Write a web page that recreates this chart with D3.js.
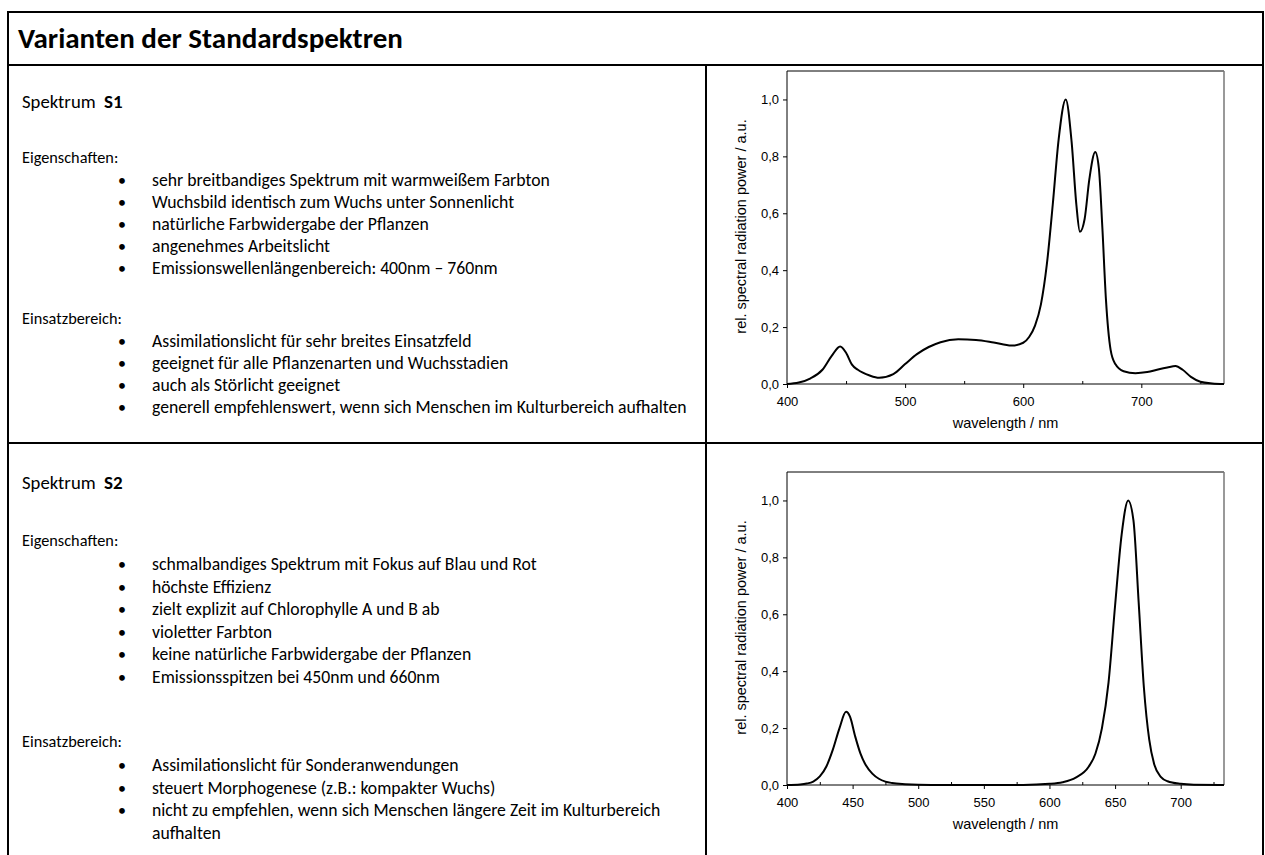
<!DOCTYPE html>
<html lang="de">
<head>
<meta charset="UTF-8">
<title>Varianten der Standardspektren</title>
<script src="https://d3js.org/d3.v7.min.js"></script>
<style>
  body { margin: 0; background: #fff; }
  .doc { font-family: Carlito, Calibri, Lato, sans-serif; fill: #000; }
  .chart text { font-family: "Liberation Sans", Arial, sans-serif; fill: #000; }
</style>
</head>
<body>
<div id="page"></div>
<script>
// ---- text content ----
const title = "Varianten der Standardspektren";

const s1Props = [
  "sehr breitbandiges Spektrum mit warmweißem Farbton",
  "Wuchsbild identisch zum Wuchs unter Sonnenlicht",
  "natürliche Farbwidergabe der Pflanzen",
  "angenehmes Arbeitslicht",
  "Emissionswellenlängenbereich: 400nm – 760nm"
];
const s1Uses = [
  "Assimilationslicht für sehr breites Einsatzfeld",
  "geeignet für alle Pflanzenarten und Wuchsstadien",
  "auch als Störlicht geeignet",
  "generell empfehlenswert, wenn sich Menschen im Kulturbereich aufhalten"
];
const s2Props = [
  "schmalbandiges Spektrum mit Fokus auf Blau und Rot",
  "höchste Effizienz",
  "zielt explizit auf Chlorophylle A und B ab",
  "violetter Farbton",
  "keine natürliche Farbwidergabe der Pflanzen",
  "Emissionsspitzen bei 450nm und 660nm"
];
const s2Uses = [
  "Assimilationslicht für Sonderanwendungen",
  "steuert Morphogenese (z.B.: kompakter Wuchs)",
  "nicht zu empfehlen, wenn sich Menschen längere Zeit im Kulturbereich"
];
const s2UsesCont = "aufhalten";

// ---- spectrum data (wavelength nm, relative power) ----
const s1Wl  = [400, 410, 420, 430, 438, 445, 450, 455, 460, 470, 478, 490, 500, 510, 520, 530, 545, 560, 575, 590, 600, 605, 610, 615, 620, 625, 630, 636, 641, 645, 648, 652, 656, 661, 664, 667, 670, 674, 678, 685, 695, 705, 715, 722, 729, 735, 742, 750, 760, 770];
const s1Val = [0.0, 0.005, 0.02, 0.05, 0.1, 0.132, 0.11, 0.068, 0.05, 0.03, 0.022, 0.035, 0.07, 0.105, 0.13, 0.147, 0.157, 0.155, 0.146, 0.135, 0.145, 0.165, 0.205, 0.28, 0.42, 0.63, 0.86, 1.0, 0.85, 0.63, 0.535, 0.58, 0.72, 0.815, 0.76, 0.55, 0.3, 0.12, 0.07, 0.045, 0.038, 0.042, 0.052, 0.058, 0.063, 0.05, 0.025, 0.008, 0.002, 0.0];

const s2Wl  = [400, 410, 415, 420, 425, 430, 435, 440, 445, 448, 452, 456, 460, 465, 470, 475, 480, 490, 500, 520, 580, 600, 610, 620, 630, 635, 640, 645, 650, 655, 660, 664, 668, 672, 676, 680, 685, 690, 700, 710, 733];
const s2Val = [0.0, 0.002, 0.005, 0.012, 0.03, 0.065, 0.125, 0.2, 0.257, 0.24, 0.17, 0.11, 0.07, 0.04, 0.022, 0.012, 0.007, 0.003, 0.001, 0.0, 0.0, 0.004, 0.01, 0.026, 0.065, 0.11, 0.2, 0.36, 0.63, 0.88, 1.0, 0.93, 0.64, 0.34, 0.16, 0.07, 0.028, 0.013, 0.004, 0.001, 0.0];

// ---- axis ticks ----
const yTicks = [0, 0.2, 0.4, 0.6, 0.8, 1.0];
const s1Major = [400, 500, 600, 700];
const s1Minor = [450, 550, 650, 750];
const s2Major = [400, 450, 500, 550, 600, 650, 700];
const s2Minor = [425, 475, 525, 575, 625, 675, 725];

const W = 1265, H = 855;
const svg = d3.select("#page").append("svg")
  .attr("width", W).attr("height", H);

// table frame
const frame = svg.append("g").attr("stroke", "#000").attr("stroke-width", 2);
frame.append("line").attr("x1", 8).attr("x2", 1263).attr("y1", 12).attr("y2", 12);
frame.append("line").attr("x1", 8).attr("x2", 8).attr("y1", 11).attr("y2", H);
frame.append("line").attr("x1", 1263).attr("x2", 1263).attr("y1", 11).attr("y2", H);
frame.append("line").attr("x1", 8).attr("x2", 1263).attr("y1", 65).attr("y2", 65);
frame.append("line").attr("x1", 8).attr("x2", 1263).attr("y1", 443).attr("y2", 443);
frame.append("line").attr("x1", 706).attr("x2", 706).attr("y1", 65).attr("y2", H);

const doc = svg.append("g").attr("class", "doc");

doc.append("text")
  .attr("x", 18).attr("y", 48)
  .attr("font-size", 29).attr("font-weight", "bold")
  .text(title);

const bodySize = 17.7;
const labelSize = 16.3;

function section(lay, name, props, uses, extra) {
  const g = doc.append("g");
  g.append("text").attr("x", 22).attr("y", lay.head).attr("font-size", 18.7).text("Spektrum");
  g.append("text").attr("x", 104).attr("y", lay.head)
    .attr("font-size", 19).attr("font-weight", "bold").text(name);

  g.append("text").attr("x", 22).attr("y", lay.eig).attr("font-size", labelSize).text("Eigenschaften:");
  props.forEach((t, i) => {
    const y = lay.props + i * lay.step;
    g.append("text").attr("x", 118).attr("y", y).attr("font-size", 16).text("•");
    g.append("text").attr("x", 152).attr("y", y).attr("font-size", bodySize).text(t);
  });
  g.append("text").attr("x", 22).attr("y", lay.ein).attr("font-size", labelSize).text("Einsatzbereich:");
  uses.forEach((t, i) => {
    const y = lay.uses + i * lay.step;
    g.append("text").attr("x", 118).attr("y", y).attr("font-size", 16).text("•");
    g.append("text").attr("x", 152).attr("y", y).attr("font-size", bodySize).text(t);
  });
  if (extra) {
    g.append("text").attr("x", 152).attr("y", lay.uses + uses.length * lay.step)
      .attr("font-size", bodySize).text(extra);
  }
}

section({ head: 108, eig: 163, props: 186, step: 22, ein: 324, uses: 347 }, "S1", s1Props, s1Uses, null);
section({ head: 489, eig: 546, props: 570, step: 22.6, ein: 747, uses: 771 }, "S2", s2Props, s2Uses, s2UsesCont);

function chart(top, wl, val, xMax, major, minor) {
  const x0 = 787, x1 = 1224, y0 = top, y1 = top + 313;
  const x = d3.scaleLinear().domain([400, xMax]).range([x0, x1]);
  const y = d3.scaleLinear().domain([0, 1.1]).range([y1, y0]);
  const g = svg.append("g").attr("class", "chart");

  // frame (top + right)
  g.append("line").attr("x1", x0).attr("x2", x1).attr("y1", y0).attr("y2", y0)
    .attr("stroke", "#000").attr("stroke-width", 1);
  g.append("line").attr("x1", x1).attr("x2", x1).attr("y1", y0).attr("y2", y1)
    .attr("stroke", "#777").attr("stroke-width", 1.5);

  // curve
  const pts = wl.map((w, i) => [w, val[i]]);
  g.append("path")
    .datum(pts)
    .attr("fill", "none")
    .attr("stroke", "#000")
    .attr("stroke-width", 2)
    .attr("stroke-linejoin", "round")
    .attr("d", d3.line().x(d => x(d[0])).y(d => y(d[1])).curve(d3.curveMonotoneX));

  // axes
  const yAxis = g.append("g").attr("transform", `translate(${x0},0)`)
    .call(d3.axisLeft(y).tickValues(yTicks).tickSize(4).tickPadding(4)
      .tickFormat(d => d3.format(".1f")(d).replace(".", ",")));
  const xAxis = g.append("g").attr("transform", `translate(0,${y1})`)
    .call(d3.axisBottom(x).tickValues(major).tickSize(4).tickPadding(9)
      .tickFormat(d3.format("d")));
  g.append("g").attr("transform", `translate(0,${y1})`)
    .call(d3.axisTop(x).tickValues(minor).tickSize(3).tickFormat(""))
    .select(".domain").remove();
  [yAxis, xAxis].forEach(a => {
    a.select(".domain").attr("stroke", "#000");
    a.selectAll("text").attr("font-size", 13);
  });
  yAxis.select(".domain").attr("d", `M0,${y0}V${y1}`);
  xAxis.select(".domain").attr("d", `M${x0},0H${x1}`);

  g.append("text")
    .attr("x", (x0 + x1) / 2).attr("y", y1 + 44)
    .attr("text-anchor", "middle").attr("font-size", 14.5)
    .text("wavelength / nm");
  g.append("text")
    .attr("transform", `translate(746,${(y0 + y1) / 2 - 1}) rotate(-90)`)
    .attr("text-anchor", "middle").attr("font-size", 14.5)
    .text("rel. spectral radiation power / a.u.");
}

chart(71, s1Wl, s1Val, 770, s1Major, s1Minor);
chart(472, s2Wl, s2Val, 733, s2Major, s2Minor);
</script>
</body>
</html>
